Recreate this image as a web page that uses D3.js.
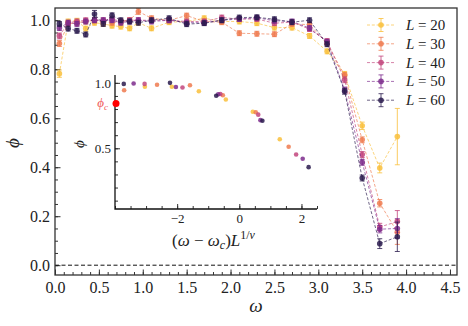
<!DOCTYPE html>
<html>
<head>
<meta charset="utf-8">
<script src="https://cdn.jsdelivr.net/npm/d3@7"></script>
<style>
  body { margin: 0; background: #fff; }
  svg { display: block; font-family: "Liberation Serif", "DejaVu Serif", serif; }
</style>
</head>
<body>
<svg id="chart" width="468" height="326"></svg>
<script>
// drive values where each L was simulated
var omega = [0.05,0.15,0.25,0.35,0.45,0.55,0.65,0.75,0.85,0.95,1.1,1.3,1.5,1.7,1.9,2.1,2.3,2.5,2.7,2.9,3.1,3.3,3.5,3.7,3.9];

var sizes = [20, 30, 40, 50, 60];
var colors = ["#f9bf3b", "#ef7a4f", "#c2457c", "#7c2b8c", "#2a1b4d"];

var phi_L20 = [0.782,0.995,0.998,0.966,0.990,0.985,0.978,0.974,0.967,0.990,0.967,0.992,0.995,1.008,0.995,0.995,0.988,0.970,0.970,0.936,0.873,0.779,0.569,0.397,0.525];
var phi_L30 = [0.905,0.985,0.990,0.995,1.000,0.995,0.990,0.995,1.000,1.036,1.008,1.000,1.019,0.995,0.992,0.947,0.945,0.943,0.985,0.982,0.905,0.775,0.512,0.253,0.135];
var phi_L40 = [0.936,0.990,0.995,1.000,1.000,1.000,1.005,0.995,1.000,1.000,1.000,1.000,0.995,0.995,1.011,1.005,1.005,0.988,0.992,0.964,0.915,0.757,0.452,0.156,0.178];
var phi_L50 = [0.968,0.990,0.985,0.995,1.000,1.000,1.000,0.990,0.995,1.000,0.995,1.000,0.990,0.990,1.000,1.005,1.010,0.998,0.995,0.968,0.912,0.715,0.420,0.147,0.150];
var phi_L60 = [0.985,0.966,0.957,0.942,1.025,0.985,1.020,1.000,0.995,0.990,1.000,1.008,0.984,0.988,1.000,1.011,1.012,1.004,0.992,1.000,0.902,0.710,0.356,0.088,0.116];

var err_L20 = [0.015,0.01,0.01,0.01,0.01,0.01,0.01,0.01,0.01,0.01,0.01,0.01,0.01,0.01,0.01,0.01,0.01,0.01,0.01,0.01,0.01,0.012,0.015,0.02,0.115];
var err_L30 = [0.012,0.01,0.01,0.01,0.01,0.01,0.01,0.01,0.01,0.012,0.01,0.01,0.01,0.01,0.01,0.01,0.01,0.01,0.01,0.01,0.01,0.012,0.012,0.015,0.05];
var err_L40 = [0.012,0.01,0.01,0.01,0.01,0.01,0.01,0.01,0.01,0.01,0.01,0.01,0.01,0.01,0.01,0.01,0.01,0.01,0.01,0.01,0.01,0.012,0.012,0.015,0.045];
var err_L50 = [0.01,0.01,0.01,0.01,0.01,0.01,0.01,0.01,0.01,0.01,0.01,0.01,0.01,0.01,0.01,0.01,0.01,0.01,0.01,0.01,0.01,0.012,0.012,0.015,0.04];
var err_L60 = [0.01,0.01,0.01,0.01,0.015,0.01,0.01,0.01,0.01,0.01,0.01,0.01,0.01,0.01,0.01,0.01,0.01,0.01,0.01,0.01,0.01,0.012,0.012,0.02,0.06];

// scaling collapse parameters
var omega_c = 3.2;
var inv_nu = 0.49;
var phi_c = 0.843;

var xTicks = [0.0,0.5,1.0,1.5,2.0,2.5,3.0,3.5,4.0,4.5];
var yTicks = [0.0,0.2,0.4,0.6,0.8,1.0];
var insetXTicks = [-2, 0, 2];
var insetYTicks = [0.5, 1.0];

var phiData = [phi_L20, phi_L30, phi_L40, phi_L50, phi_L60];
var errData = [err_L20, err_L30, err_L40, err_L50, err_L60];

var series = sizes.map(function(L, i){
  return {
    L: L,
    color: colors[i],
    points: omega.map(function(w, j){ return {w: w, phi: phiData[i][j], err: errData[i][j]}; })
  };
});

var svg = d3.select("#chart");
var fmt1 = function(d){ return d3.format(".1f")(d); };
var minus = function(d){ return (d < 0 ? "\u2212" : "") + Math.abs(d); };

// ---- main panel ----
var x = d3.scaleLinear().domain([0, 4.58]).range([55, 457]);
var y = d3.scaleLinear().domain([-0.04, 1.05]).range([275, 8]);

function styleAxis(g, size){
  g.attr("font-family", null);
  g.select(".domain").remove();
  g.selectAll("line").attr("stroke", "#333").attr("stroke-width", 1);
  g.selectAll("text").style("font-family", "'Liberation Serif', 'DejaVu Serif', serif")
    .attr("font-size", size).attr("fill", "#222");
}

svg.append("g").attr("transform", "translate(0,275)")
  .call(d3.axisBottom(x).tickValues(d3.range(0, 4.55, 0.1)).tickSize(-3).tickFormat(""))
  .call(styleAxis, 16);
svg.append("g").attr("transform", "translate(0,275)")
  .call(d3.axisBottom(x).tickValues(xTicks).tickSize(-5.5).tickPadding(7).tickFormat(fmt1))
  .call(styleAxis, 16);
svg.append("g").attr("transform", "translate(55,0)")
  .call(d3.axisLeft(y).tickValues(d3.range(0, 1.04, 0.05)).tickSize(-3).tickFormat(""))
  .call(styleAxis, 16);
svg.append("g").attr("transform", "translate(55,0)")
  .call(d3.axisLeft(y).tickValues(yTicks).tickSize(-5.5).tickPadding(5).tickFormat(fmt1))
  .call(styleAxis, 16);

// zero reference
svg.append("line")
  .attr("x1", x(0)).attr("x2", 457).attr("y1", y(0)).attr("y2", y(0))
  .attr("stroke", "#111").attr("stroke-width", 1).attr("stroke-dasharray", "4,2.5");

var line = d3.line().x(function(d){ return x(d.w); }).y(function(d){ return y(d.phi); });

var grp = svg.selectAll(".series").data(series).enter().append("g").attr("class", "series");

grp.append("path")
  .attr("d", function(d){ return line(d.points); })
  .attr("fill", "none")
  .attr("stroke", function(d){ return d.color; })
  .attr("stroke-width", 0.9)
  .attr("stroke-opacity", 0.75)
  .attr("stroke-dasharray", "3,1.8");

grp.each(function(s){
  var g = d3.select(this);
  var eb = g.selectAll(".eb").data(s.points).enter().append("g").attr("class", "eb")
    .attr("stroke", s.color).attr("stroke-opacity", 0.8).attr("stroke-width", 1);
  eb.append("line")
    .attr("x1", function(d){ return x(d.w); }).attr("x2", function(d){ return x(d.w); })
    .attr("y1", function(d){ return y(d.phi - d.err); }).attr("y2", function(d){ return y(d.phi + d.err); });
  eb.append("line")
    .attr("x1", function(d){ return x(d.w) - 2.5; }).attr("x2", function(d){ return x(d.w) + 2.5; })
    .attr("y1", function(d){ return y(d.phi + d.err); }).attr("y2", function(d){ return y(d.phi + d.err); });
  eb.append("line")
    .attr("x1", function(d){ return x(d.w) - 2.5; }).attr("x2", function(d){ return x(d.w) + 2.5; })
    .attr("y1", function(d){ return y(d.phi - d.err); }).attr("y2", function(d){ return y(d.phi - d.err); });
  g.selectAll("circle").data(s.points).enter().append("circle")
    .attr("cx", function(d){ return x(d.w); })
    .attr("cy", function(d){ return y(d.phi); })
    .attr("r", 2.8)
    .attr("fill", s.color)
    .attr("fill-opacity", 0.85);
});

// frame
svg.append("rect").attr("x", 55).attr("y", 8).attr("width", 402).attr("height", 267)
  .attr("fill", "none").attr("stroke", "#333").attr("stroke-width", 1.3);

// axis labels
svg.append("text").attr("x", 256).attr("y", 312).attr("text-anchor", "middle")
  .attr("font-size", 19).attr("font-style", "italic").attr("fill", "#222").text("\u03c9");
svg.append("text").attr("transform", "translate(19,143) rotate(-90)").attr("text-anchor", "middle")
  .attr("font-size", 19).attr("font-style", "italic").attr("fill", "#222").text("\u03d5");

// legend
var leg = svg.append("g").selectAll("g").data(series).enter().append("g")
  .attr("transform", function(d, i){ return "translate(0," + (25 + i * 18.8) + ")"; });
leg.append("line").attr("x1", 367).attr("x2", 394).attr("y1", 0).attr("y2", 0)
  .attr("stroke", function(d){ return d.color; }).attr("stroke-width", 0.9)
  .attr("stroke-opacity", 0.75).attr("stroke-dasharray", "3,1.8");
leg.append("path").attr("d", "M381,-6.5V6.5M378.5,-6.5H383.5M378.5,6.5H383.5")
  .attr("stroke", function(d){ return d.color; }).attr("stroke-opacity", 0.8).attr("fill", "none");
leg.append("circle").attr("cx", 381).attr("cy", 0).attr("r", 2.8)
  .attr("fill", function(d){ return d.color; }).attr("fill-opacity", 0.85);
var lt = leg.append("text").attr("x", 406).attr("y", 5).attr("font-size", 15).attr("fill", "#222");
lt.append("tspan").attr("font-style", "italic").text("L");
lt.append("tspan").text(function(d){ return " = " + d.L; });

// ---- inset: collapse (omega - omega_c) L^(1/nu) ----
var xi = d3.scaleLinear().domain([-4, 2.5]).range([115, 317]);
var yi = d3.scaleLinear().domain([0.036, 1.06]).range([209, 75]);

svg.append("g").attr("transform", "translate(0,209)")
  .call(d3.axisBottom(xi).tickValues(d3.range(-4, 2.51, 0.5)).tickSize(-3).tickFormat(""))
  .call(styleAxis, 13);
svg.append("g").attr("transform", "translate(0,209)")
  .call(d3.axisBottom(xi).tickValues(insetXTicks).tickSize(-5).tickPadding(5).tickFormat(minus))
  .call(styleAxis, 13);
svg.append("g").attr("transform", "translate(115,0)")
  .call(d3.axisLeft(yi).tickValues(d3.range(0.1, 1.05, 0.1)).tickSize(-3).tickFormat(""))
  .call(styleAxis, 13);
svg.append("g").attr("transform", "translate(115,0)")
  .call(d3.axisLeft(yi).tickValues(insetYTicks).tickSize(-5).tickPadding(4).tickFormat(fmt1))
  .call(styleAxis, 13);

svg.append("path").attr("d", "M115,75V209H317").attr("fill", "none")
  .attr("stroke", "#111").attr("stroke-width", 1.3);

var inset = svg.append("g");
series.forEach(function(s){
  var scaled = s.points.map(function(d){
    return {xs: (d.w - omega_c) * Math.pow(s.L, inv_nu), phi: d.phi, w: d.w};
  }).filter(function(d){ return d.w >= 2.45 && d.w <= 3.55 && d.xs > -3.8; });
  inset.selectAll(null).data(scaled).enter().append("circle")
    .attr("cx", function(d){ return xi(d.xs); })
    .attr("cy", function(d){ return yi(d.phi); })
    .attr("r", 2.3)
    .attr("fill", s.color)
    .attr("fill-opacity", 0.85);
});

// critical value marker
svg.append("circle").attr("cx", 116).attr("cy", yi(phi_c)).attr("r", 3.5).attr("fill", "red");
var pc = svg.append("text").attr("x", 108).attr("y", yi(phi_c) + 4).attr("text-anchor", "end")
  .attr("font-size", 13).attr("fill", "#f05a5a").attr("font-style", "italic");
pc.append("tspan").text("\u03d5");
pc.append("tspan").attr("font-size", 9).attr("dy", 3).text("c");

svg.append("text").attr("transform", "translate(84,144) rotate(-90)").attr("text-anchor", "middle")
  .attr("font-size", 15).attr("font-style", "italic").attr("fill", "#222").text("\u03d5");

var xl = svg.append("text").attr("x", 172).attr("y", 246).attr("font-size", 17).attr("fill", "#222");
xl.append("tspan").text("(");
xl.append("tspan").attr("font-style", "italic").text("\u03c9");
xl.append("tspan").text(" \u2212 ");
xl.append("tspan").attr("font-style", "italic").text("\u03c9");
xl.append("tspan").attr("font-style", "italic").attr("font-size", 12).attr("dy", 3).text("c");
xl.append("tspan").attr("dy", -3).text(")");
xl.append("tspan").attr("font-style", "italic").text("L");
xl.append("tspan").attr("font-size", 12).attr("dy", -7).text("1/");
xl.append("tspan").attr("font-size", 12).attr("font-style", "italic").text("\u03bd");
</script>
</body>
</html>
